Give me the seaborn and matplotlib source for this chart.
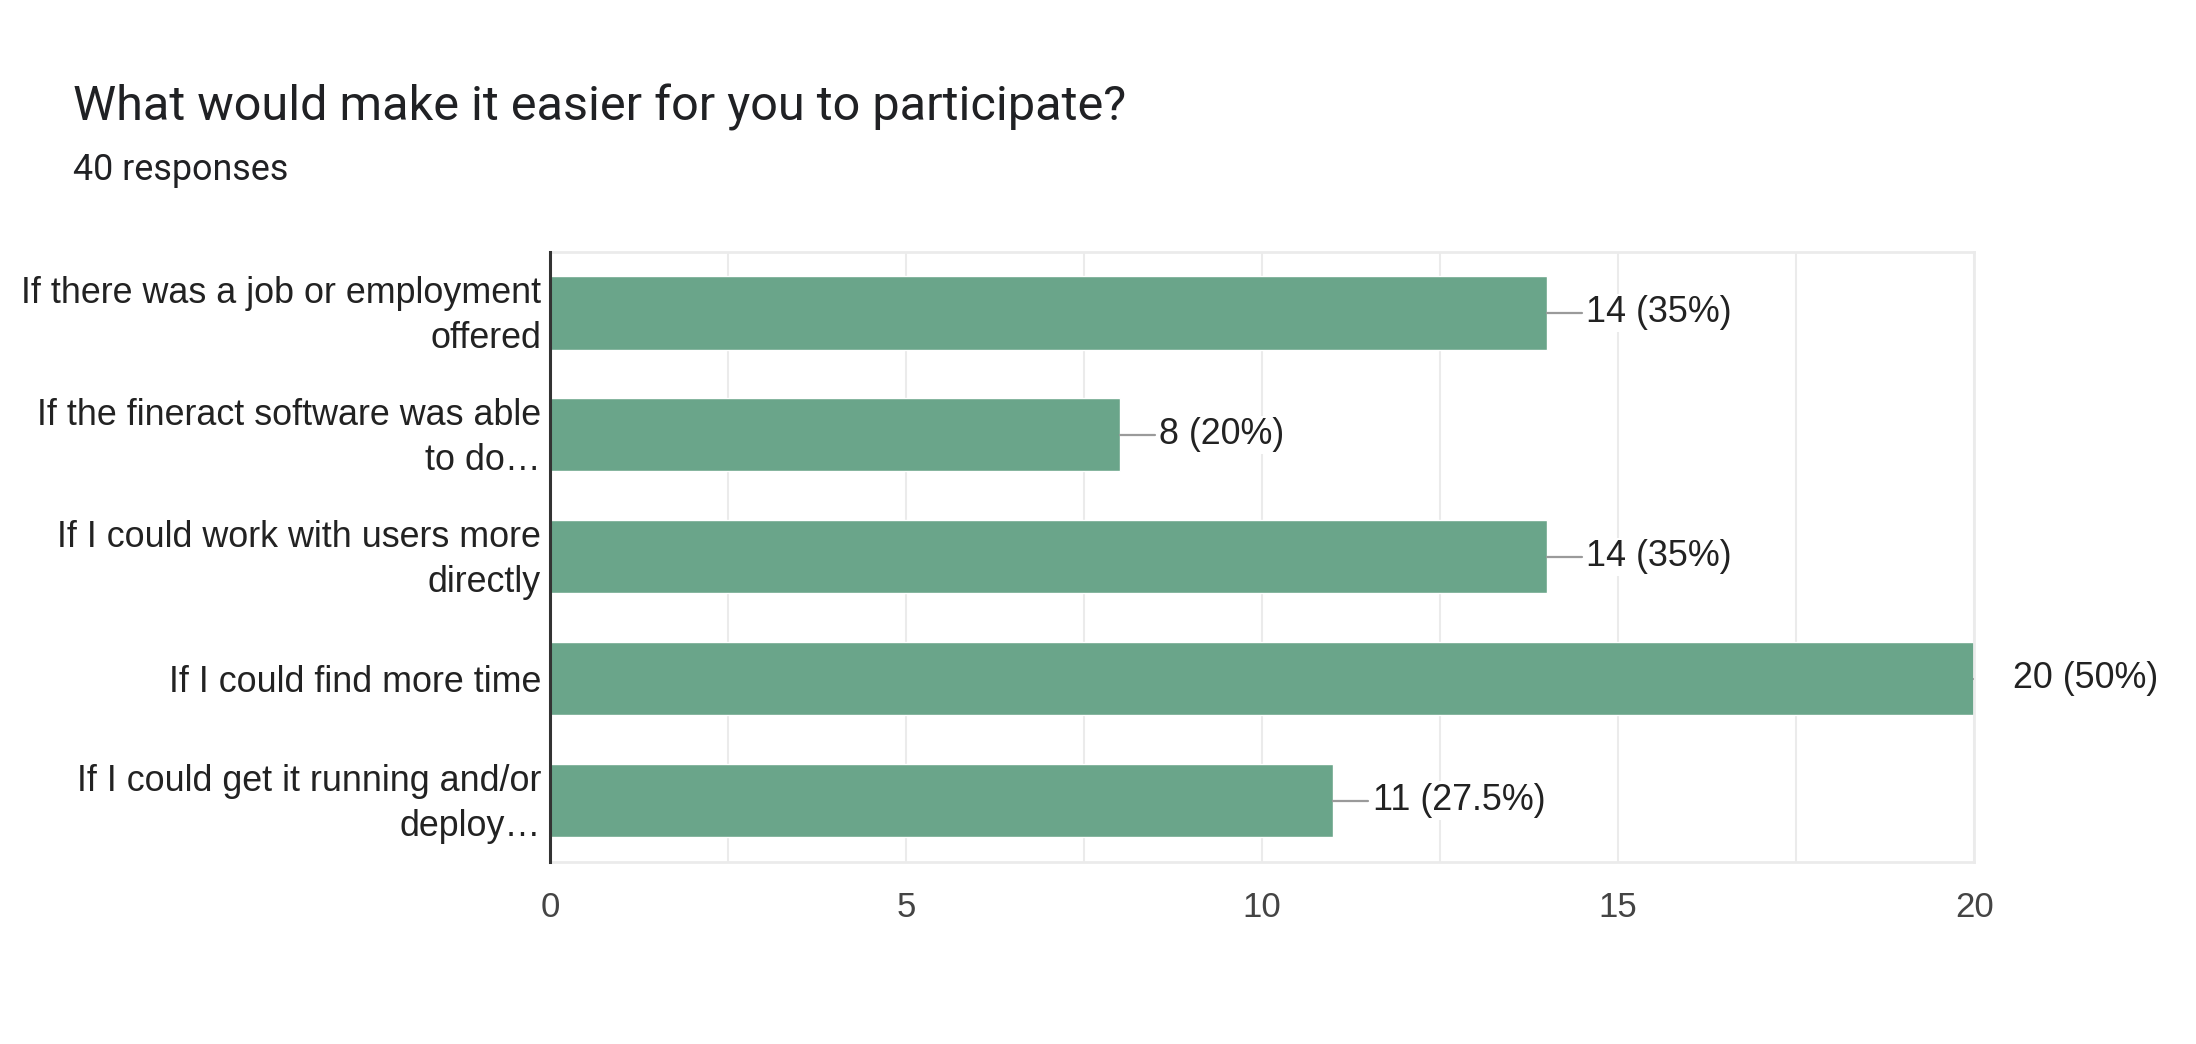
import pandas as pd
import numpy as np
import seaborn as sns
import matplotlib.pyplot as plt
import matplotlib.transforms as mtransforms
from matplotlib.ticker import MultipleLocator

sns.set_style("white")
plt.rcParams['font.family'] = ['Liberation Sans', 'DejaVu Sans']

# data
answers = [
    "If there was a job or employment\noffered",
    "If the fineract software was able\nto do\u2026",
    "If I could work with users more\ndirectly",
    "If I could find more time",
    "If I could get it running and/or\ndeploy\u2026",
]
counts = [14, 8, 14, 20, 11]
total_responses = 40

df = pd.DataFrame({"answer": answers, "count": counts})

bar_color = "#6aa58a"
grid_color = "#ebebeb"

fig = plt.figure(figsize=(21.96, 10.44), dpi=100)
ax = fig.add_axes([0.2505, 0.1747, 0.6485, 0.5839])

sns.barplot(data=df, x="count", y="answer", orient="h", color=bar_color,
            saturation=1, width=0.6, ax=ax)

ax.set_xlim(0, 20)
ax.set_ylim(4.5, -0.5)
ax.xaxis.set_major_locator(MultipleLocator(5))
ax.xaxis.set_minor_locator(MultipleLocator(2.5))
ax.set_axisbelow(True)
ax.grid(True, axis="x", which="both", color=grid_color, lw=1.5)
ax.grid(False, axis="y")
ax.set_xlabel("")
ax.set_ylabel("")

for side in ["top", "bottom", "right"]:
    ax.spines[side].set_color(grid_color)
    ax.spines[side].set_linewidth(2)
ax.spines["left"].set_color("#333333")
ax.spines["left"].set_linewidth(2.2)
ax.spines["left"].set_zorder(5)

ax.tick_params(axis="x", length=0, pad=21, labelsize=25, labelcolor="#444444")
ax.tick_params(axis="y", length=0, pad=6.5, labelsize=25.8, labelcolor="#222222")
# two-line labels sit a touch low in matplotlib, nudge them up
nudge = mtransforms.ScaledTranslation(0, 4 / 72, fig.dpi_scale_trans)
for lab in ax.get_yticklabels():
    lab.set_horizontalalignment("right")
    lab.set_linespacing(1.37)
    if "\n" in lab.get_text():
        lab.set_transform(lab.get_transform() + nudge)

# value labels with little leader lines
for i, v in enumerate(counts):
    pct = v / total_responses * 100
    ax.plot([v, v + 0.49], [i, i], color="#9a9a9a", lw=1.6, clip_on=True, zorder=3)
    ax.text(v + 0.55, i, "{} ({:g}%)".format(v, pct), ha="left", va="center",
            fontsize=25.8, color="#222222", clip_on=False, zorder=4,
            bbox=dict(boxstyle="square,pad=0.05", fc="white", ec="none"))

fig.text(0.0332, 0.885, "What would make it easier for you to participate?",
         fontsize=35, family=["Roboto", "DejaVu Sans"], color="#202124", va="baseline")
fig.text(0.0332, 0.8276, "40 responses",
         fontsize=25.8, family=["Roboto", "DejaVu Sans"], color="#202124", va="baseline")

fig.savefig("out.png", dpi=100)
